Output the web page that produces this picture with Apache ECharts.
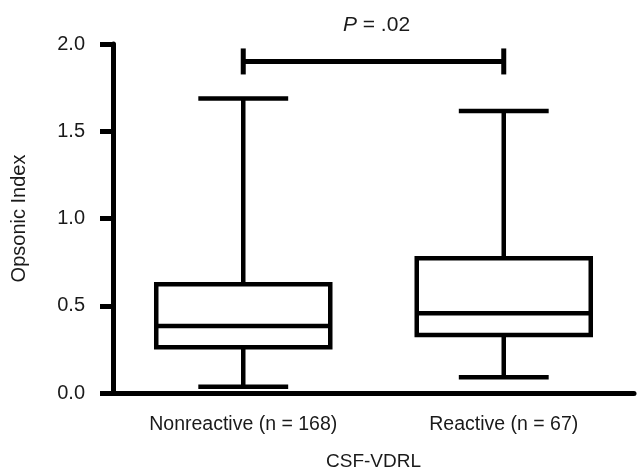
<!DOCTYPE html>
<html>
<head>
<meta charset="utf-8">
<script src="https://cdn.jsdelivr.net/npm/echarts@6/dist/echarts.min.js"></script>
<style>
  html, body { margin: 0; padding: 0; background: #fff; }
  #chart { width: 638px; height: 469px; }
</style>
</head>
<body>
<div id="chart"></div>
<script>
// groups on the x axis
var categories = ['Nonreactive (n = 168)', 'Reactive (n = 67)'];
// five-number summaries
var lowWhisker = [0.036, 0.09];
var q1 = [0.262, 0.332];
var median = [0.384, 0.457];
var q3 = [0.623, 0.772];
var highWhisker = [1.687, 1.616];
// y ticks
var yTicks = [0, 0.5, 1.0, 1.5, 2.0];
// significance bracket
var bracketLevel = 1.9;
var pLabel = '{i|P} = .02';

var font = '"Liberation Sans", Arial, Helvetica, sans-serif';
var textColor = '#1a1a1a';

var boxData = categories.map(function (c, i) {
  return [i, lowWhisker[i], q1[i], median[i], q3[i], highWhisker[i]];
});

var myChart = echarts.init(document.getElementById('chart'));
myChart.setOption({
  animation: false,
  textStyle: { fontFamily: font },
  grid: { left: 113, right: 4, top: 44, bottom: 76, containLabel: false, outerBoundsMode: 'none' },
  xAxis: {
    type: 'category',
    data: categories,
    name: 'CSF-VDRL',
    nameLocation: 'middle',
    nameGap: 59,
    nameTextStyle: { fontSize: 19, color: textColor, fontFamily: font },
    axisLine: { lineStyle: { color: '#000', width: 5 } },
    axisTick: { alignWithLabel: true, length: 12, lineStyle: { color: '#000', width: 5 } },
    axisLabel: { fontSize: 19.5, color: textColor, margin: 22, fontFamily: font },
    splitLine: { show: false }
  },
  yAxis: {
    type: 'value',
    min: yTicks[0],
    max: yTicks[yTicks.length - 1],
    interval: 0.5,
    name: 'Opsonic Index',
    nameLocation: 'middle',
    nameGap: 84,
    nameTextStyle: { fontSize: 20, color: textColor, fontFamily: font },
    axisLine: { show: true, lineStyle: { color: '#000', width: 5 } },
    axisTick: { show: true, length: 13, lineStyle: { color: '#000', width: 5 } },
    axisLabel: {
      fontSize: 20, color: textColor, margin: 28, fontFamily: font,
      formatter: function (v) { return v.toFixed(1); }
    },
    splitLine: { show: false }
  },
  series: [
    {
      type: 'custom',
      data: boxData,
      encode: { x: 0, y: [1, 2, 3, 4, 5] },
      renderItem: function (params, api) {
        var i = api.value(0);
        var pLo = api.coord([i, api.value(1)]);
        var pQ1 = api.coord([i, api.value(2)]);
        var pMed = api.coord([i, api.value(3)]);
        var pQ3 = api.coord([i, api.value(4)]);
        var pHi = api.coord([i, api.value(5)]);
        var band = api.size([1, 0])[0];
        var cx = pMed[0];
        var bw = band * 0.668;
        var cw = band * 0.345;
        var ls = { stroke: '#000', lineWidth: 4.5, lineCap: 'butt' };
        return {
          type: 'group',
          children: [
            { type: 'line', shape: { x1: cx, y1: pHi[1], x2: cx, y2: pQ3[1] }, style: ls },
            { type: 'line', shape: { x1: cx, y1: pQ1[1], x2: cx, y2: pLo[1] }, style: ls },
            { type: 'line', shape: { x1: cx - cw / 2, y1: pHi[1], x2: cx + cw / 2, y2: pHi[1] }, style: ls },
            { type: 'line', shape: { x1: cx - cw / 2, y1: pLo[1], x2: cx + cw / 2, y2: pLo[1] }, style: ls },
            {
              type: 'rect',
              shape: { x: cx - bw / 2, y: pQ3[1], width: bw, height: pQ1[1] - pQ3[1] },
              style: { fill: '#fff', stroke: '#000', lineWidth: 4.5 }
            },
            { type: 'line', shape: { x1: cx - bw / 2, y1: pMed[1], x2: cx + bw / 2, y2: pMed[1] }, style: ls }
          ]
        };
      }
    },
    {
      type: 'custom',
      data: [[0, 1, bracketLevel]],
      encode: { x: [0, 1], y: 2 },
      renderItem: function (params, api) {
        var a = api.coord([api.value(0), api.value(2)]);
        var b = api.coord([api.value(1), api.value(2)]);
        var ls = { stroke: '#000', lineWidth: 5 };
        return {
          type: 'group',
          children: [
            { type: 'line', shape: { x1: a[0], y1: a[1], x2: b[0], y2: b[1] }, style: ls },
            { type: 'line', shape: { x1: a[0], y1: a[1] - 13, x2: a[0], y2: a[1] + 13 }, style: ls },
            { type: 'line', shape: { x1: b[0], y1: b[1] - 13, x2: b[0], y2: b[1] + 13 }, style: ls },
            {
              type: 'text',
              style: {
                x: (a[0] + b[0]) / 2 + 3,
                y: a[1] - 36,
                text: pLabel,
                align: 'center',
                verticalAlign: 'middle',
                fill: textColor,
                font: '21px ' + font,
                rich: { i: { fontStyle: 'italic', fontSize: 21, fill: textColor, fontFamily: font } }
              }
            }
          ]
        };
      }
    }
  ]
});
</script>
</body>
</html>
